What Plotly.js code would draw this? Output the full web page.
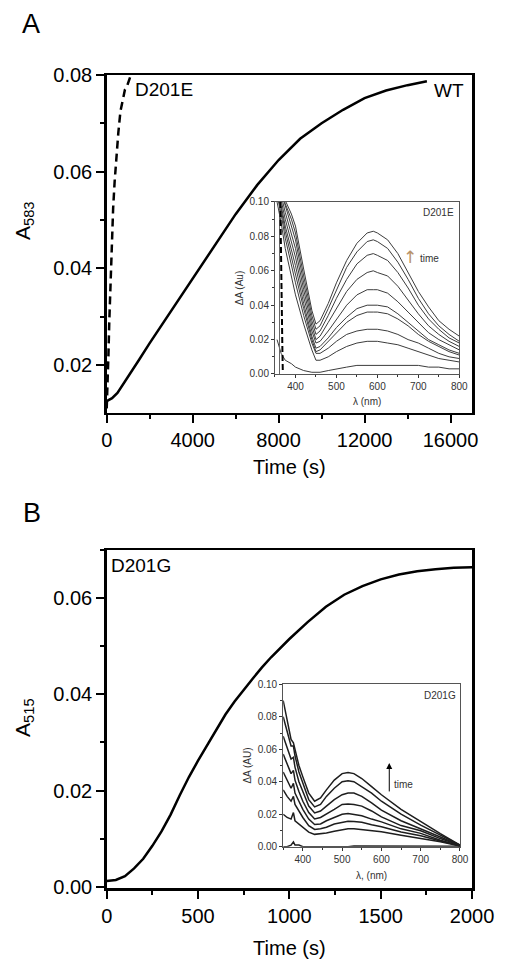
<!DOCTYPE html>
<html><head><meta charset="utf-8">
<script src="https://cdn.plot.ly/plotly-3.0.1.min.js"></script>
<style>html,body{margin:0;padding:0;background:#fff}</style>
</head><body><div id="chart" style="width:505px;height:971px"></div>
<script>
// ---------- Panel A: kinetics at 583 nm ----------
const timeWT = [0, 250, 500, 1000, 1500, 2000, 3000, 4000, 5000, 6000, 7000, 8000, 9000, 10000, 11000, 12000, 13000, 14000, 14900];
const absWT  = [0.0125, 0.0131, 0.0142, 0.0175, 0.0210, 0.0245, 0.0312, 0.0380, 0.0447, 0.0512, 0.0572, 0.0624, 0.0668, 0.0700, 0.0728, 0.0752, 0.0768, 0.0779, 0.0787];
const timeD201E = [0, 40, 80, 120, 160, 200, 250, 300, 370, 450, 540, 640, 745, 850, 940, 1000, 1100];
const absD201E  = [0.0110, 0.0150, 0.0220, 0.0290, 0.0350, 0.0420, 0.0475, 0.0525, 0.0580, 0.0635, 0.0680, 0.0725, 0.0750, 0.0770, 0.0776, 0.0784, 0.0797];

// ---------- Panel A inset: D201E difference spectra ----------
const lambdaA = [355, 365, 375, 390, 400, 420, 440, 450, 460, 480, 500, 525, 550, 575, 590, 600, 625, 650, 675, 700, 725, 750, 775, 800];
const spectraA = [
  [0.118,0.110,0.101,0.093,0.086,0.061,0.037,0.029,0.031,0.041,0.053,0.066,0.076,0.082,0.083,0.082,0.078,0.070,0.059,0.048,0.039,0.031,0.026,0.022],
  [0.116,0.108,0.099,0.090,0.082,0.057,0.034,0.026,0.028,0.038,0.049,0.062,0.071,0.077,0.078,0.077,0.073,0.065,0.055,0.044,0.035,0.028,0.023,0.019],
  [0.114,0.106,0.097,0.086,0.078,0.053,0.031,0.023,0.025,0.034,0.044,0.055,0.064,0.069,0.070,0.069,0.066,0.059,0.050,0.040,0.032,0.026,0.021,0.018],
  [0.112,0.104,0.094,0.082,0.073,0.049,0.028,0.020,0.022,0.030,0.038,0.048,0.055,0.059,0.060,0.059,0.057,0.051,0.043,0.035,0.028,0.023,0.019,0.016],
  [0.110,0.101,0.090,0.077,0.068,0.045,0.025,0.018,0.019,0.025,0.032,0.040,0.046,0.049,0.049,0.049,0.047,0.042,0.036,0.030,0.024,0.020,0.017,0.014],
  [0.108,0.098,0.086,0.072,0.063,0.041,0.022,0.015,0.016,0.021,0.027,0.033,0.038,0.040,0.040,0.040,0.039,0.035,0.030,0.025,0.020,0.017,0.014,0.012],
  [0.106,0.096,0.083,0.068,0.059,0.038,0.020,0.013,0.014,0.019,0.024,0.030,0.034,0.036,0.036,0.036,0.035,0.032,0.028,0.023,0.019,0.016,0.013,0.011],
  [0.104,0.093,0.079,0.063,0.053,0.034,0.018,0.012,0.012,0.015,0.019,0.023,0.025,0.026,0.026,0.026,0.025,0.023,0.020,0.018,0.015,0.012,0.010,0.009],
  [0.100,0.088,0.073,0.056,0.046,0.029,0.014,0.008,0.008,0.010,0.013,0.016,0.018,0.019,0.019,0.019,0.018,0.017,0.015,0.013,0.011,0.009,0.008,0.007],
  [0.020,0.012,0.008,0.006,0.004,0.002,0.001,0.001,0.001,0.002,0.003,0.004,0.005,0.005,0.005,0.005,0.005,0.005,0.005,0.005,0.004,0.004,0.003,0.003]
];
const lambdaAdash = [363, 364, 366, 368, 369];
const valAdash    = [0.100, 0.075, 0.045, 0.015, 0.002];
const lambdaAvert = [361, 361];
const valAvert    = [0.000, 0.100];

// ---------- Panel B: kinetics at 515 nm ----------
const timeD201G = [0, 50, 100, 150, 200, 250, 300, 350, 400, 450, 500, 550, 600, 650, 700, 750, 800, 850, 900, 1000, 1100, 1200, 1300, 1400, 1500, 1600, 1700, 1800, 1900, 2000];
const absD201G  = [0.0012, 0.0014, 0.0022, 0.0038, 0.0058, 0.0085, 0.0115, 0.0150, 0.0190, 0.0228, 0.0262, 0.0295, 0.0328, 0.0358, 0.0385, 0.0410, 0.0433, 0.0456, 0.0477, 0.0515, 0.0550, 0.0582, 0.0607, 0.0625, 0.0639, 0.0649, 0.0656, 0.0660, 0.0663, 0.0664];

// ---------- Panel B inset: D201G difference spectra ----------
const lambdaB = [350, 360, 370, 376, 380, 390, 400, 415, 430, 445, 460, 480, 500, 515, 530, 550, 575, 600, 650, 700, 750, 800];
const spectraB = [
  [0.090,0.078,0.066,0.064,0.060,0.050,0.043,0.033,0.028,0.030,0.035,0.041,0.045,0.0457,0.045,0.042,0.037,0.032,0.023,0.0153,0.008,0.001],
  [0.080,0.071,0.062,0.062,0.056,0.046,0.039,0.029,0.0245,0.026,0.031,0.036,0.040,0.0406,0.040,0.037,0.033,0.028,0.020,0.0133,0.007,0.001],
  [0.068,0.061,0.054,0.055,0.049,0.040,0.034,0.025,0.0208,0.022,0.025,0.029,0.032,0.0331,0.033,0.031,0.027,0.0225,0.016,0.0112,0.006,0.0008],
  [0.057,0.051,0.045,0.047,0.041,0.034,0.028,0.021,0.0171,0.018,0.020,0.023,0.026,0.0263,0.026,0.025,0.022,0.0184,0.013,0.0098,0.005,0.0008],
  [0.046,0.041,0.036,0.039,0.033,0.028,0.023,0.017,0.0137,0.014,0.016,0.018,0.020,0.0204,0.020,0.019,0.017,0.0153,0.011,0.0082,0.004,0.0006],
  [0.035,0.031,0.028,0.031,0.026,0.022,0.018,0.013,0.0106,0.011,0.012,0.014,0.015,0.0157,0.0155,0.015,0.0135,0.0123,0.009,0.0067,0.0035,0.0005],
  [0.020,0.018,0.017,0.021,0.016,0.014,0.012,0.009,0.0076,0.008,0.0085,0.0095,0.0105,0.011,0.011,0.0105,0.010,0.0092,0.007,0.0051,0.003,0.0004],
  [0.000,0.000,0.001,0.003,0.001,0.001,0.000,0.000,0.000,0.000,0.000,0.000,0.000,0.000,0.0005,0.0005,0.0005,0.0005,0.0005,0.0005,0.0003,0.0002]
];

const FONT = "Arial, 'Liberation Sans', sans-serif";
const traces = [];
traces.push({x: timeWT, y: absWT, xaxis: 'x', yaxis: 'y', mode: 'lines', line: {color: '#000', width: 2.5}});
traces.push({x: timeD201E, y: absD201E, xaxis: 'x', yaxis: 'y', mode: 'lines', line: {color: '#000', width: 2.5, dash: '8px,5px'}});
spectraA.forEach(s => traces.push({x: lambdaA, y: s, xaxis: 'x3', yaxis: 'y3', mode: 'lines', line: {color: '#3c3c3c', width: 1}}));
traces.push({x: lambdaAvert, y: valAvert, xaxis: 'x3', yaxis: 'y3', mode: 'lines', line: {color: '#666', width: 1}});
traces.push({x: lambdaAdash, y: valAdash, xaxis: 'x3', yaxis: 'y3', mode: 'lines', line: {color: '#000', width: 2, dash: '6px,3px'}});
traces.push({x: timeD201G, y: absD201G, xaxis: 'x2', yaxis: 'y2', mode: 'lines', line: {color: '#000', width: 2.5}});
spectraB.forEach(s => traces.push({x: lambdaB, y: s, xaxis: 'x4', yaxis: 'y4', mode: 'lines', line: {color: '#1e1e1e', width: 1.5}}));

const mainAxis = {
  showline: true, linewidth: 2.5, linecolor: '#000', mirror: true,
  ticks: 'outside', ticklen: 8, tickwidth: 2, tickcolor: '#000',
  showgrid: false, zeroline: false,
  tickfont: {family: FONT, size: 20, color: '#000'}
};
const insetAxis = {
  showline: true, linewidth: 1, linecolor: '#555', mirror: true,
  ticks: 'outside', ticklen: 3, tickwidth: 1, tickcolor: '#333',
  showgrid: false, zeroline: false,
  tickfont: {family: FONT, size: 10, color: '#333'}
};
function ax(base, extra) { return Object.assign({}, base, extra); }
const mainMinor = {ticks: 'outside', ticklen: 4, tickwidth: 2, tickcolor: '#000'};
const insetMinor = {ticks: 'outside', ticklen: 2, tickwidth: 1, tickcolor: '#333'};

const layout = {
  width: 505, height: 971,
  margin: {l: 0, r: 0, t: 0, b: 0},
  paper_bgcolor: '#fff', plot_bgcolor: 'rgba(0,0,0,0)',
  showlegend: false,
  font: {family: FONT, color: '#000'},
  xaxis: ax(mainAxis, {domain: [0.2113, 0.9347], anchor: 'y', range: [0, 17000], tick0: 0, dtick: 4000, tickformat: 'd',
    minor: ax(mainMinor, {dtick: 2000}),
    title: {text: 'Time (s)', font: {family: FONT, size: 20}, standoff: 10}}),
  yaxis: ax(mainAxis, {domain: [0.57497, 0.92276], anchor: 'x', range: [0.0101, 0.08], tick0: 0, dtick: 0.02, tickformat: '.2f',
    minor: ax(mainMinor, {dtick: 0.01})}),
  xaxis2: ax(mainAxis, {domain: [0.2113, 0.9347], anchor: 'y2', range: [0, 2000], tick0: 0, dtick: 500, tickformat: 'd',
    minor: ax(mainMinor, {dtick: 250}),
    title: {text: 'Time (s)', font: {family: FONT, size: 20}, standoff: 15}}),
  yaxis2: ax(mainAxis, {domain: [0.08517, 0.43357], anchor: 'x2', range: [-0.00033, 0.07], tick0: 0, dtick: 0.02, tickformat: '.2f',
    minor: ax(mainMinor, {dtick: 0.01})}),
  xaxis3: ax(insetAxis, {domain: [0.54455, 0.90950], anchor: 'y3', range: [350, 800], tick0: 0, dtick: 100,
    minor: ax(insetMinor, {dtick: 50}),
    title: {text: 'λ (nm)', font: {family: FONT, size: 10, color: '#333'}, standoff: 6}}),
  yaxis3: ax(insetAxis, {domain: [0.61483, 0.79197], anchor: 'x3', range: [0, 0.10], tick0: 0, dtick: 0.02, tickformat: '.2f',
    minor: ax(insetMinor, {dtick: 0.01}),
    title: {text: 'ΔA (Au)', font: {family: FONT, size: 10, color: '#333'}, standoff: 4}}),
  xaxis4: ax(insetAxis, {domain: [0.56079, 0.91089], anchor: 'y4', range: [350, 800], tick0: 0, dtick: 100,
    minor: ax(insetMinor, {dtick: 50}),
    title: {text: 'λ, (nm)', font: {family: FONT, size: 10, color: '#333'}, standoff: 8}}),
  yaxis4: ax(insetAxis, {domain: [0.12801, 0.29526], anchor: 'x4', range: [0, 0.10], tick0: 0, dtick: 0.02, tickformat: '.2f',
    minor: ax(insetMinor, {dtick: 0.01}),
    title: {text: 'ΔA (AU)', font: {family: FONT, size: 10, color: '#333'}, standoff: 4}}),
  shapes: [
    {type: 'rect', xref: 'x3', yref: 'y3', x0: 350, x1: 800, y0: 0, y1: 0.10, fillcolor: '#fff', line: {width: 0}, layer: 'below'},
    {type: 'rect', xref: 'x4', yref: 'y4', x0: 350, x1: 800, y0: 0, y1: 0.10, fillcolor: '#fff', line: {width: 0}, layer: 'below'}
  ],
  annotations: [
    {text: 'A', xref: 'paper', yref: 'paper', x: 0.0614, y: 0.9753, xanchor: 'center', yanchor: 'middle', showarrow: false, font: {family: FONT, size: 27}},
    {text: 'B', xref: 'paper', yref: 'paper', x: 0.0634, y: 0.4717, xanchor: 'center', yanchor: 'middle', showarrow: false, font: {family: FONT, size: 27}},
    {text: 'A<sub>583</sub>', xref: 'paper', yref: 'paper', x: 0.0475, y: 0.7734, xanchor: 'center', yanchor: 'middle', textangle: -90, showarrow: false, font: {family: FONT, size: 21}},
    {text: 'A<sub>515</sub>', xref: 'paper', yref: 'paper', x: 0.0475, y: 0.2616, xanchor: 'center', yanchor: 'middle', textangle: -90, showarrow: false, font: {family: FONT, size: 21}},
    {text: 'D201E', xref: 'paper', yref: 'paper', x: 0.2634, y: 0.9083, xanchor: 'left', yanchor: 'middle', showarrow: false, font: {family: FONT, size: 19}},
    {text: 'WT', xref: 'paper', yref: 'paper', x: 0.9228, y: 0.9073, xanchor: 'right', yanchor: 'middle', showarrow: false, font: {family: FONT, size: 19}},
    {text: 'D201G', xref: 'paper', yref: 'paper', x: 0.2158, y: 0.4171, xanchor: 'left', yanchor: 'middle', showarrow: false, font: {family: FONT, size: 19}},
    {text: 'D201E', xref: 'x3 domain', yref: 'y3 domain', x: 0.98, y: 0.98, xanchor: 'right', yanchor: 'top', showarrow: false, font: {family: FONT, size: 10, color: '#333'}},
    {text: 'D201G', xref: 'x4 domain', yref: 'y4 domain', x: 0.99, y: 0.98, xanchor: 'right', yanchor: 'top', showarrow: false, font: {family: FONT, size: 10, color: '#333'}},
    {text: '↑', xref: 'x3', yref: 'y3', x: 680, y: 0.0680, xanchor: 'center', yanchor: 'middle', showarrow: false, font: {family: "'DejaVu Sans', sans-serif", size: 17, color: '#b8936a'}},
    {text: 'time', xref: 'x3', yref: 'y3', x: 699, y: 0.0674, xanchor: 'left', yanchor: 'middle', showarrow: false, font: {family: FONT, size: 10, color: '#333'}},
    {text: '', xref: 'x4', yref: 'y4', x: 620, y: 0.0515, axref: 'x4', ayref: 'y4', ax: 620, ay: 0.0331, showarrow: true, arrowhead: 2, arrowsize: 1.2, arrowwidth: 1, arrowcolor: '#000'},
    {text: 'time', xref: 'x4', yref: 'y4', x: 627, y: 0.0386, xanchor: 'left', yanchor: 'middle', showarrow: false, font: {family: FONT, size: 10, color: '#333'}}
  ]
};

Plotly.newPlot('chart', traces, layout, {staticPlot: true, displayModeBar: false});
</script>
</body></html>
